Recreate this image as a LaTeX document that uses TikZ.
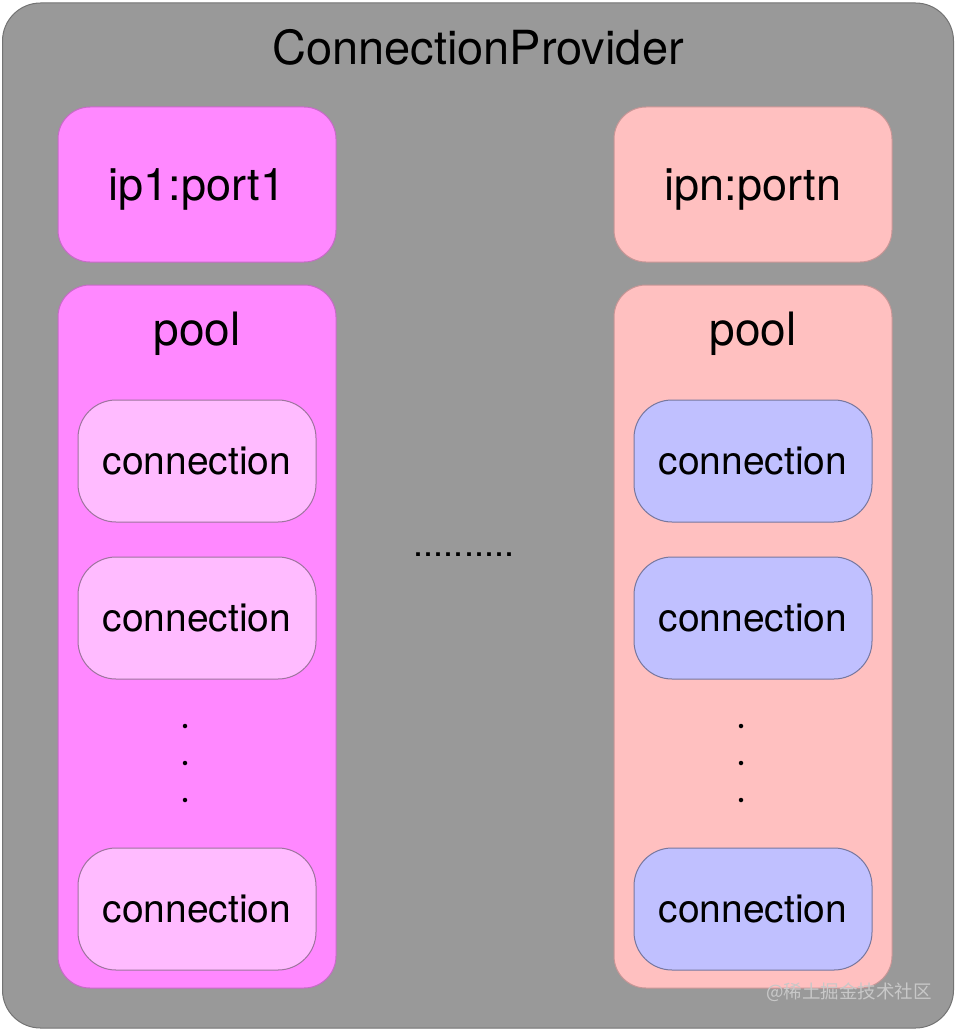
\documentclass[tikz,border=0pt]{standalone}
\usepackage{fontspec}
\setmainfont{TeX Gyre Heros}
\newfontfamily\cjkfont{Noto Sans CJK SC}
\usetikzlibrary{positioning}
\definecolor{framegray}{HTML}{999999}
\definecolor{magentabox}{HTML}{FF88FF}
\definecolor{magentaconn}{HTML}{FFBBFF}
\definecolor{pinkbox}{HTML}{FFC0C0}
\definecolor{blueconn}{HTML}{C0C0FF}
\definecolor{markgray}{HTML}{C8C8C8}
\tikzset{ipbox/.style = {fill = #1, draw = #1!78!black, line width = 1, rounded corners = 32,
                         minimum width = 278, minimum height = 155, text depth = 0,
                         font = \fontsize{45}{54}\selectfont}}
\tikzset{poolbox/.style = {fill = #1, draw = #1!78!black, line width = 1, rounded corners = 32,
                           minimum width = 278, minimum height = 703}}
\tikzset{connbox/.style = {fill = #1, draw = #1!62!black, line width = 1, rounded corners = 38,
                           minimum width = 238, minimum height = 122,
                           font = \fontsize{39}{47}\selectfont}}
\tikzset{dotmark/.style = {fill, circle, inner sep = 0, minimum size = 4.5}}

\begin{document}
\begin{tikzpicture}[x = 1pt, y = -1pt]
      \useasboundingbox (0, 0) rectangle (957, 1030);
      \node [fill = framegray, draw = black!55, line width = 1, rounded corners = 38,
             minimum width = 951, minimum height = 1025] (frame) at (478, 515.5) {};
      \node [anchor = base, font = \fontsize{47}{56}\selectfont] (title) at (478, 65) {ConnectionProvider};

      % left host
      \node [ipbox = magentabox] (ip1) at (197, 184.5) {ip1:port1};
      \node [poolbox = magentabox] (pool1) at (197, 636.5) {};
      \node [anchor = base, font = \fontsize{46}{55}\selectfont] (pool1lbl) at (197, 345) {pool};
      \node [connbox = magentaconn] (conn11) at (197, 461) {connection};
      \node [connbox = magentaconn, below = 34pt of conn11] (conn12) {connection};
      \node [connbox = magentaconn] (conn1n) at (197, 909) {connection};
      \foreach \i/\y in {1/726, 2/763, 3/800}
        \node [dotmark] (dot1\i) at (185, \y) {};

      % right host
      \node [ipbox = pinkbox] (ipn) at (753, 184.5) {ipn:portn};
      \node [poolbox = pinkbox] (pooln) at (753, 636.5) {};
      \node [anchor = base, font = \fontsize{46}{55}\selectfont] (poolnlbl) at (753, 345) {pool};
      \node [connbox = blueconn] (connn1) at (753, 461) {connection};
      \node [connbox = blueconn, below = 34pt of connn1] (connn2) {connection};
      \node [connbox = blueconn] (connnn) at (753, 909) {connection};
      \foreach \i/\y in {1/726, 2/763, 3/800}
        \node [dotmark] (dotn\i) at (741, \y) {};

      \node [font = \fontsize{36}{43}\selectfont] (between) at (464, 555) {..........};
      \node [text = markgray, font = \cjkfont\fontsize{18.5}{22}\selectfont] (mark) at (849, 992) {@稀土掘金技术社区};
    \end{tikzpicture}
\end{document}
